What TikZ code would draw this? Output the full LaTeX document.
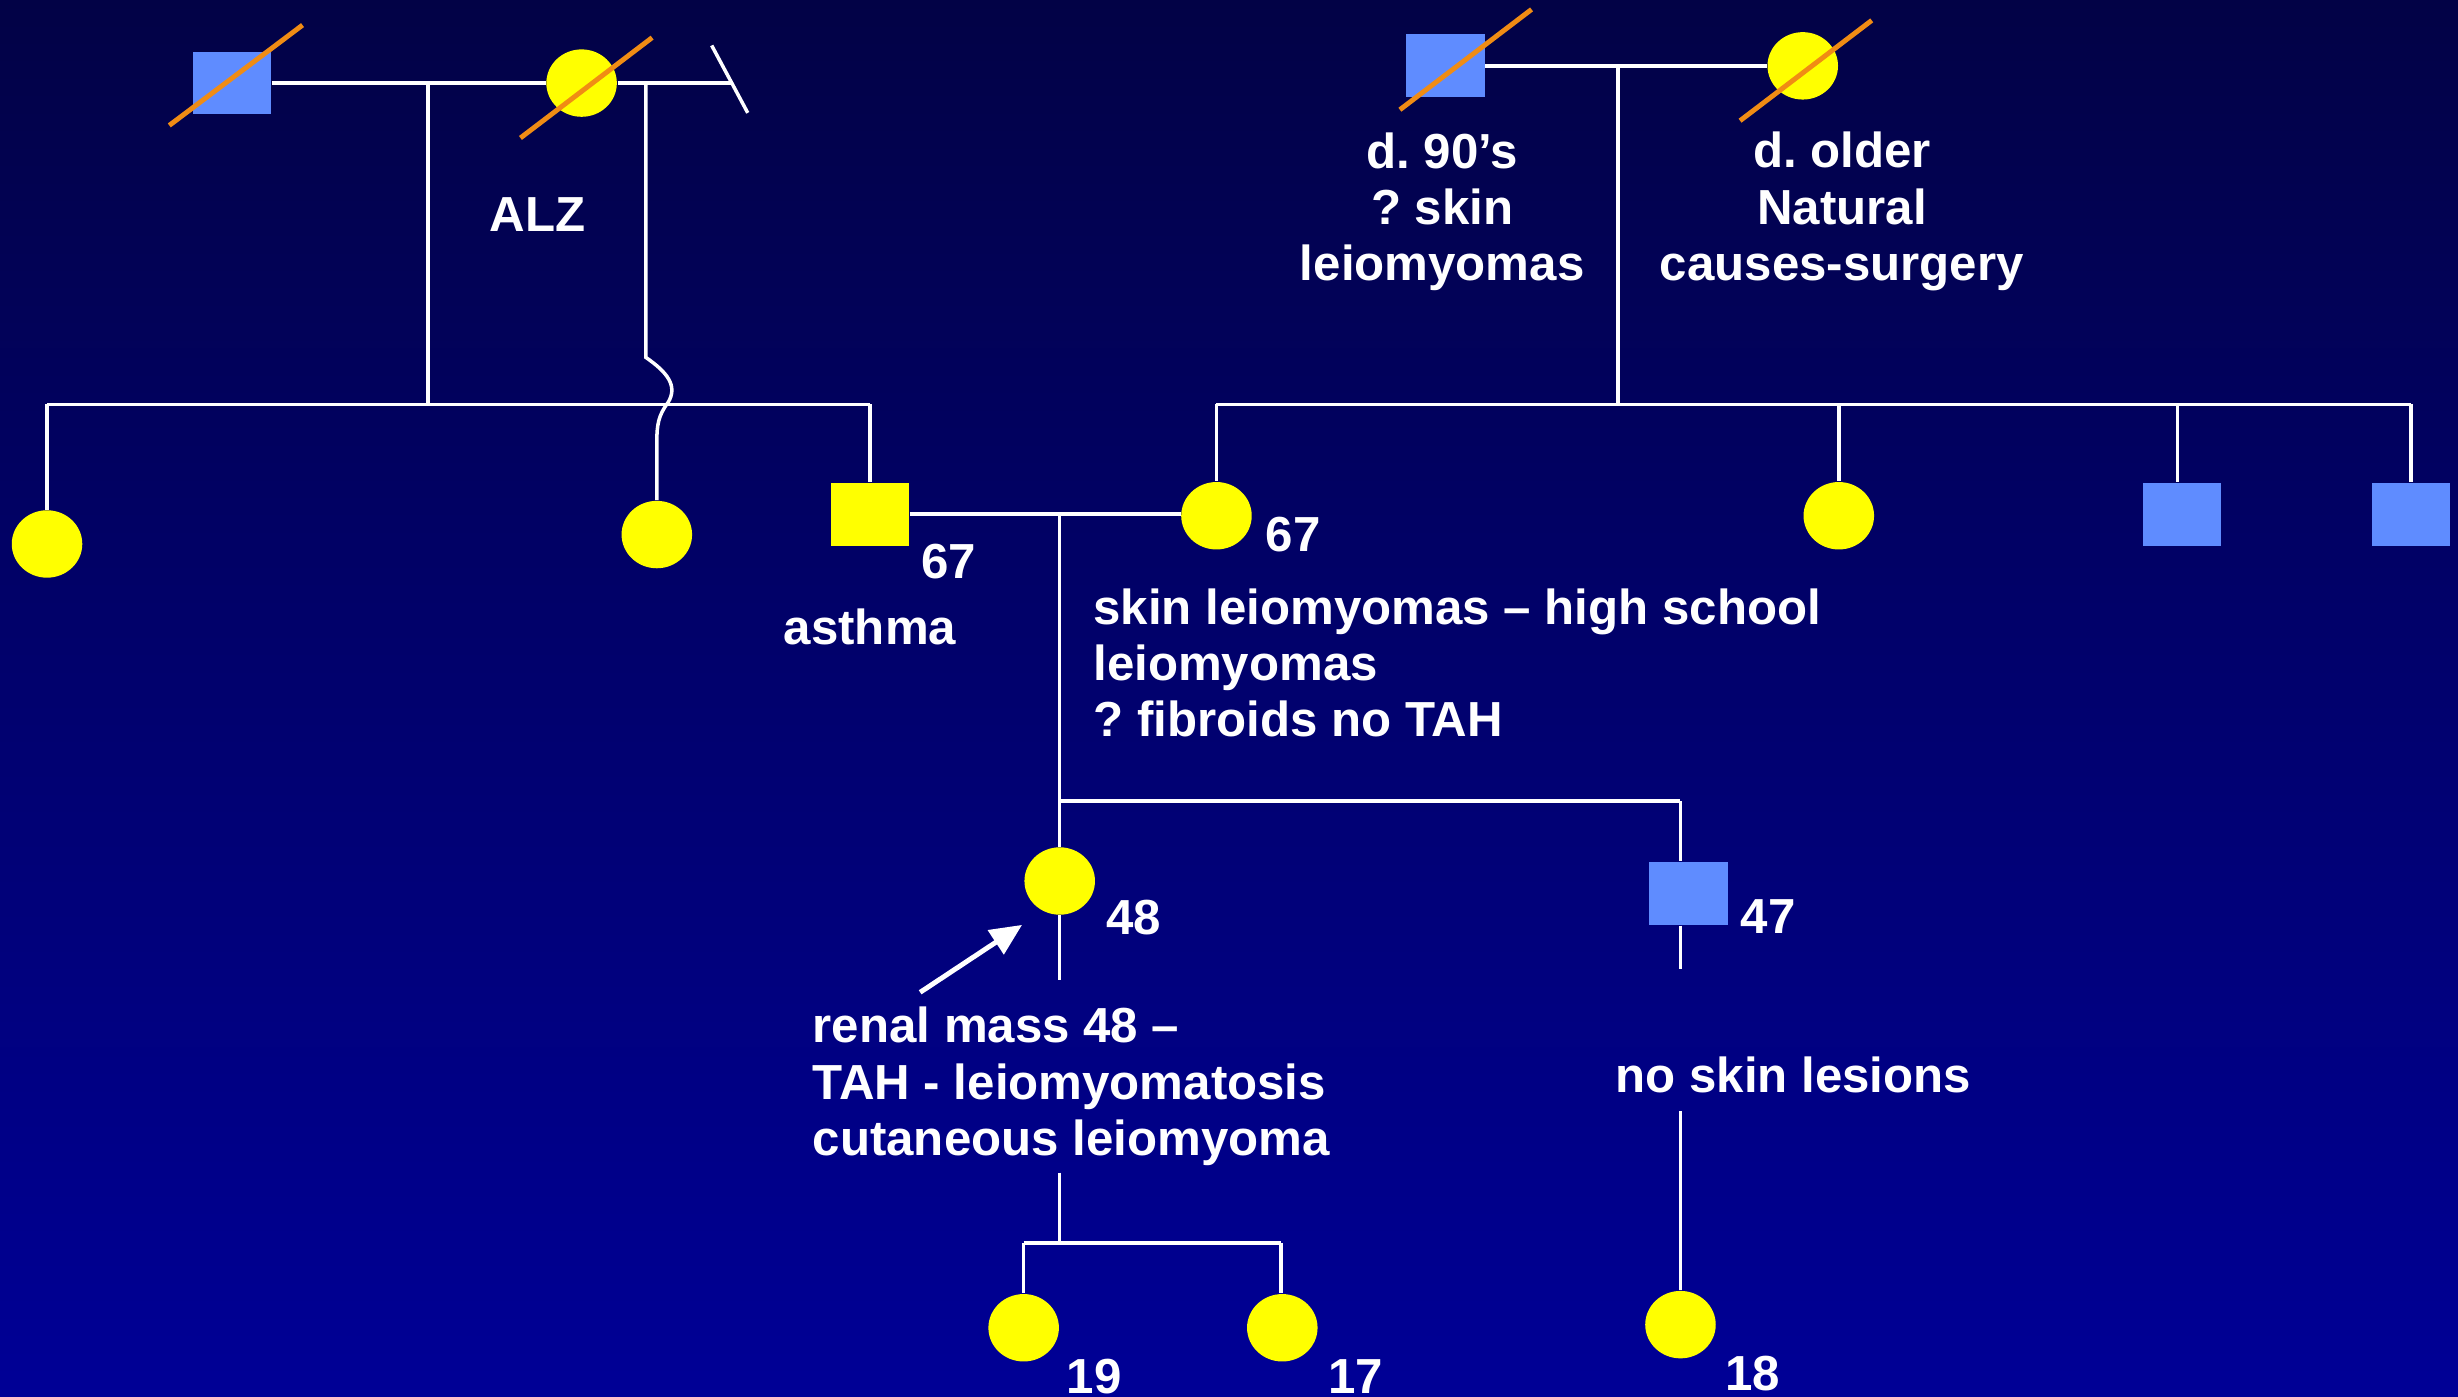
\documentclass[tikz,border=0pt]{standalone}
\usepackage{fontspec}
\setmainfont{Liberation Sans}
\frenchspacing
\usetikzlibrary{shapes.geometric,arrows.meta}
\definecolor{bgtop}{RGB}{2,2,70}
\definecolor{bgbot}{RGB}{0,0,150}
\definecolor{pyellow}{RGB}{255,255,0}
\definecolor{pblue}{RGB}{95,140,255}
\definecolor{porange}{RGB}{240,140,20}
\tikzset{
  female/.style={ellipse, fill=pyellow, draw=none, inner sep=0pt, minimum width=0.705cm, minimum height=0.674cm},
  male/.style={rectangle, fill=pblue, draw=none, inner sep=0pt, minimum width=0.784cm, minimum height=0.627cm},
  ymale/.style={male, fill=pyellow},
  lbl/.style={text=white, font=\fontsize{14}{16}\selectfont\bfseries, inner sep=0pt},
  pline/.style={draw=white, line width=1pt},
  dslash/.style={draw=porange, line width=1.4pt},
}
\begin{document}
\begin{tikzpicture}[x=0.015676cm, y=-0.015676cm]
\shade[top color=bgtop, bottom color=bgbot] (0,0) rectangle (1568,891);
\useasboundingbox (0,0) rectangle (1568,891);

% ---- top-left grandparents
\node[male] (gf1) at (148,53) {};
\node[female] (gm1) at (371,53) {};
\coordinate (m1) at (273,53);
\coordinate (e1) at (466,53);
\coordinate (k1a) at (454,29);
\coordinate (k1b) at (477,72);
\coordinate (w1) at (412,53);
\draw[pline] (gf1.east) -- (gm1.west);
\draw[pline] (gm1.east) -- (e1);
\draw[pline] (k1a) -- (k1b);
\draw[dslash] ([shift={(-40,27)}]gf1.center) -- ([shift={(45,-37)}]gf1.center);
\draw[dslash] ([shift={(-39,35)}]gm1.center) -- ([shift={(45,-29)}]gm1.center);
\node[lbl] (alz) at (343,137) {ALZ};

% ---- left sibship
\coordinate (s1) at (273,258);
\coordinate (s1l) at (30,258);
\coordinate (s1r) at (555,258);
\node[female] (ch1) at (30,347) {};
\node[female] (ch2) at (419,341) {};
\node[ymale] (fa) at (555,328) {};
\draw[pline] (m1) -- (s1);
\draw[pline] (s1l) -- (s1r);
\draw[pline] (s1l) -- (ch1.north);
\draw[pline] (s1r) -- (fa.north);
\draw[pline] (w1) -- (412,228) .. controls (425,237) and (433,246) .. (426,257)
   .. controls (420,265) and (419,271) .. (419,282) -- (ch2.north);

% ---- top-right grandparents
\node[male] (gf2) at (922,42) {};
\node[female] (gm2) at (1150,42) {};
\coordinate (m2) at (1032,42);
\draw[pline] (gf2.east) -- (gm2.west);
\draw[dslash] ([shift={(-29,28)}]gf2.center) -- ([shift={(55,-36)}]gf2.center);
\draw[dslash] ([shift={(-40,35)}]gm2.center) -- ([shift={(44,-29)}]gm2.center);
\node[lbl, align=center] (lgf2) at (920,135) {d. 90’s\\? skin\\leiomyomas};
\node[lbl, align=center] (lgm2) at (1175,135) {d. older\\Natural\\causes-surgery};

% ---- right sibship
\coordinate (s2) at (1032,258);
\coordinate (s2l) at (776,258);
\coordinate (s2a) at (1173,258);
\coordinate (s2b) at (1389,258);
\coordinate (s2r) at (1538,258);
\node[female] (mo) at (776,329) {};
\node[female] (au1) at (1173,329) {};
\node[male] (un1) at (1392,328) {};
\node[male] (un2) at (1538,328) {};
\draw[pline] (m2) -- (s2);
\draw[pline] (s2l) -- (s2r);
\draw[pline] (s2l) -- (mo.north);
\draw[pline] (s2a) -- (au1.north);
\draw[pline] (s2b) -- (s2b |- un1.north);
\draw[pline] (s2r) -- (un2.north);

% ---- parents
\draw[pline] (fa.east) -- (fa.east -| mo.west);
\coordinate (m3) at (676,328);
\coordinate (s3) at (676,511);
\coordinate (s3r) at (1072,511);
\node[lbl] (afa) at (605,358) {67};
\node[lbl] (asth) at (555,400) {asthma};
\node[lbl] (amo) at (825,341) {67};
\node[lbl, anchor=west, align=left] (dmo) at (697,423) {skin leiomyomas – high school\\leiomyomas\\? fibroids no TAH};

% ---- children
\node[female] (p48) at (676,562) {};
\node[male] (b47) at (1077,570) {};
\draw[pline] (m3) -- (s3);
\draw[pline] (s3) -- (p48.north);
\draw[pline] (s3) -- (s3r);
\draw[pline] (s3r) -- (s3r |- b47.north);
\node[lbl] (a48) at (723,585) {48};
\node[lbl] (a47) at (1128,585) {47};
\coordinate (p48b) at (676,625);
\draw[pline] (p48.south) -- (p48b);
\coordinate (arrt) at (587,633);
\coordinate (arrh) at (652,590);
\draw[draw=white, line width=1.4pt, -{Triangle[length=9pt,width=8pt]}] (arrt) -- (arrh);
\node[lbl, anchor=west, align=left] (dp48) at (518,693) {renal mass 48 –\\TAH - leiomyomatosis\\cutaneous leiomyoma};
\coordinate (b47b) at (1072,618);
\draw[pline] (s3r |- b47.south) -- (b47b);
\node[lbl] (db47) at (1144,686) {no skin lesions};

% ---- grandchildren
\coordinate (g1) at (676,748);
\coordinate (s4) at (676,793);
\coordinate (s4l) at (653,793);
\coordinate (s4r) at (817,793);
\node[female] (d19) at (653,847) {};
\node[female] (d17) at (818,847) {};
\draw[pline] (g1) -- (s4);
\draw[pline] (s4l) -- (s4r);
\draw[pline] (s4l) -- (d19.north);
\draw[pline] (s4r) -- (s4r |- d17.north);
\node[lbl] (a19) at (698,878) {19};
\node[lbl] (a17) at (865,878) {17};
\coordinate (g2) at (1072,709);
\node[female] (d18) at (1072,845) {};
\draw[pline] (g2) -- (d18.north);
\node[lbl] (a18) at (1118,876) {18};
\end{tikzpicture}
\end{document}
